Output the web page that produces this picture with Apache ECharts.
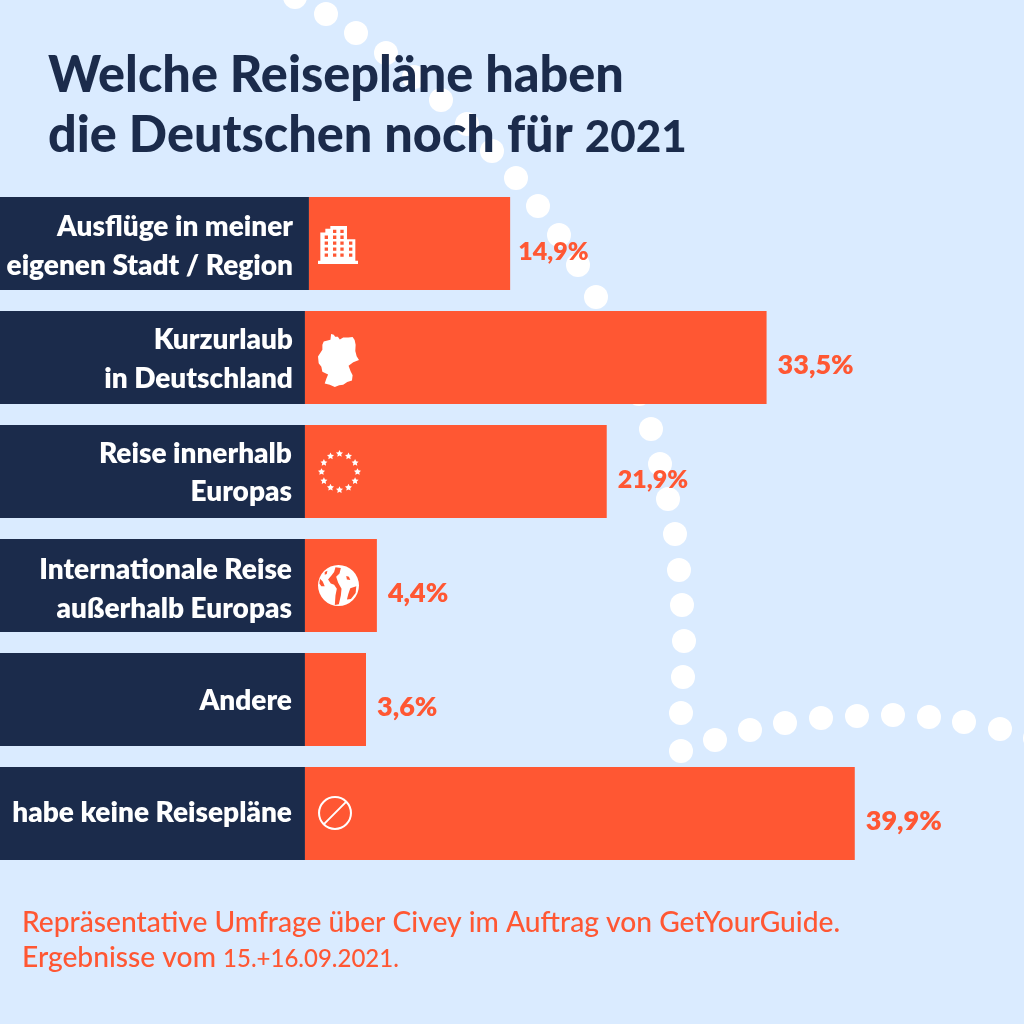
<!DOCTYPE html>
<html><head><meta charset="utf-8">
<style>html,body{margin:0;padding:0;background:#DAEBFF}#c{width:1024px;height:1024px}</style>
<script src="https://cdn.jsdelivr.net/npm/echarts@6/dist/echarts.min.js"></script>
</head><body><div id="c"></div>
<script>
const titleText = 'Welche Reisepläne haben\ndie Deutschen noch für {d|2021}';
const noteText = 'Repräsentative Umfrage über Civey im Auftrag von GetYourGuide.\nErgebnisse vom {d|15.+16.09.2021.}';
const categories = ['Ausflüge in meiner\neigenen Stadt / Region','Kurzurlaub\nin Deutschland','Reise innerhalb\nEuropas','Internationale Reise\naußerhalb Europas','Andere','habe keine Reisepläne'];
const percentLabels = ['14,9%','33,5%','21,9%','4,4%','3,6%','39,9%'];
const barLengths = [14.6,33.5,21.9,5.22,4.43,39.9];
const labelPanel = [22.42,22.13,22.13,22.13,22.13,22.13];
const dotX = [295,326,356,386,414,441,467,492,516,538,559,578,596,610,625,639,651,660,668,675,679,682,684,683,681,681,715,750,785,821,857,893,929,964,1000,1035];
const dotY = [-3,14,33,53,77,100,124,151,178,206,235,265,297,332,363,394,429,464,499,534,570,605,641,677,713,751,740,730,723,718,716,715,717,722,729,738];

const BG='#DAEBFF', NAVY='#1B2B4B', ORANGE='#FF5733', FONT='Lato';
const PX=13.78;
const valueFontSizes=[25,27,25,27,27,27];

function poly(pts, ccw){
  let a=0; for(let i=0;i<pts.length;i++){const p=pts[i],q=pts[(i+1)%pts.length];a+=p[0]*q[1]-q[0]*p[1];}
  const isCW=a>0; const list=(isCW===!ccw)?pts:pts.slice().reverse();
  return 'M'+list.map(p=>p.join(' ')).join('L')+'Z';
}
function buildingPath(){
  let d=poly([[953,222],[953,212],[960,212],[960,127],[975,127],[975,115],[990,115],[990,107],[1040,107],[1040,147],[1065,147],[1065,212],[1073,212],[1073,222]],false);
  const rows=[[118,[998,1020]],[136,[973,998,1020]],[154,[973,998,1020,1046]],[172,[973,998,1020,1046]],[190,[973,998,1020,1046]]];
  rows.forEach(r=>r[1].forEach(x=>{const y=r[0];d+=poly([[x,y],[x+10,y],[x+10,y+10],[x,y+10]],true);}));
  return d;
}
function starsPath(){
  let d='';
  for(let i=0;i<12;i++){
    const t=i/12*2*Math.PI, cx=50+41.5*Math.sin(t), cy=50-41.5*Math.cos(t), pts=[];
    for(let k=0;k<10;k++){const r=k%2?4.2:8.5,u=k/10*2*Math.PI;pts.push([cx+r*Math.sin(u),cy-r*Math.cos(u)]);}
    d+=poly(pts,false);
  }
  return d;
}
const germanyPath=poly([[64,28],[72,30],[76,36],[84,36],[90,44],[100,38],[115,38],[128,37],[134,46],[137,60],[136,78],[140,94],[147,105],[130,112],[116,122],[122,138],[128,150],[126,166],[112,170],[100,178],[88,180],[75,185],[60,178],[45,175],[50,160],[55,148],[38,140],[35,125],[27,115],[25,95],[38,75],[38,60],[42,50],[62,45]],false);
function globePath(){
  let d='M24 90A61 61 0 1 1 146 90A61 61 0 1 1 24 90Z';
  const oceans=[
   [[76,36],[92,38],[88,54],[78,64],[84,82],[94,100],[92,120],[86,146],[74,148],[76,120],[80,100],[72,88],[62,84],[54,72],[64,60],[72,50]],
   [[120,98],[138,92],[136,112],[122,130],[110,132],[114,116]],
   [[30,70],[38,78],[44,92],[34,92],[28,84]],
   [[108,62],[116,64],[120,74],[110,72]],
   [[44,50],[52,46],[50,56],[44,58]]
  ];
  oceans.forEach(o=>d+=poly(o,true));
  return d;
}
const noEntryPath='M0 50A50 50 0 1 1 100 50A50 50 0 1 1 0 50Z M6 50A44 44 0 1 0 94 50A44 44 0 1 0 6 50Z '+poly([[82,14],[86,18],[18,86],[14,82]],false);

const iconTable=[
 {row:0,path:buildingPath(),cx:338,dy:1.5,size:[40,38]},
 {row:1,path:germanyPath,cx:338.5,dy:3,size:[41,53]},
 {row:2,path:starsPath(),cx:339.5,dy:0,size:[43,43]},
 {row:3,path:globePath(),cx:338.5,dy:0,size:[41,41]},
 {row:5,path:noEntryPath,cx:335,dy:-0.5,size:[34,34]}
];
const rowLabelOffset=[3,2,1.5,4,1,-1];

const chart=echarts.init(document.getElementById('c'),null,{renderer:'canvas'});
chart.setOption({
  animation:false,
  backgroundColor:BG,
  title:[
   {text:titleText,left:48,top:46,padding:0,textStyle:{fontFamily:FONT,fontWeight:900,fontSize:50.4,lineHeight:60,color:NAVY,
      rich:{d:{fontFamily:FONT,fontWeight:900,fontSize:44,lineHeight:60,padding:[4,0,0,0],color:NAVY}}}},
   {text:noteText,left:22,top:905,padding:0,textStyle:{fontFamily:FONT,fontWeight:500,fontSize:28.2,lineHeight:35,color:ORANGE,
      rich:{d:{fontFamily:FONT,fontWeight:500,fontSize:24,lineHeight:35,padding:[3,0,0,0],color:ORANGE}}}}
  ],
  grid:[
   {left:0,top:186.5,width:1024,height:684},
   {left:0,top:0,width:1024,height:1024}
  ],
  xAxis:[
   {gridIndex:0,type:'value',min:0,max:1024/PX,show:false},
   {gridIndex:1,type:'value',min:0,max:1024,show:false}
  ],
  yAxis:[
   {gridIndex:0,type:'category',data:categories,inverse:true,show:false},
   {gridIndex:1,type:'value',min:0,max:1024,inverse:true,show:false}
  ],
  series:[
   {type:'scatter',xAxisIndex:1,yAxisIndex:1,z:1,symbolSize:24,silent:true,
    itemStyle:{color:'#FFFFFF',opacity:1},clip:false,
    data:dotX.map((x,i)=>[x,dotY[i]])},
   {type:'bar',name:'label',stack:'s',z:2,barWidth:93,itemStyle:{color:NAVY},
    data:labelPanel.map((v,i)=>({value:v,label:{
      show:true,position:'insideRight',distance:i===0?16:(i<2?12:13),offset:[0,rowLabelOffset[i]],
      formatter:()=>categories[i],color:'#fff',fontFamily:FONT,fontWeight:800,fontSize:28,lineHeight:38.5,align:'right'}}))},
   {type:'bar',name:'value',stack:'s',z:2,barWidth:93,itemStyle:{color:ORANGE},
    data:barLengths.map((v,i)=>({value:v,label:{
      show:true,position:'right',distance:i===0?8:11,offset:[0,8],
      formatter:()=>percentLabels[i],color:ORANGE,fontFamily:FONT,fontWeight:800,fontSize:valueFontSizes[i]}}))},
   {type:'scatter',z:3,silent:true,clip:false,itemStyle:{color:'#FFFFFF',opacity:1},
    data:iconTable.map(o=>({value:[o.cx/PX,categories[o.row]],symbol:'path://'+o.path,symbolSize:o.size,symbolOffset:[0,o.dy]}))}
  ]
});
</script></body></html>
